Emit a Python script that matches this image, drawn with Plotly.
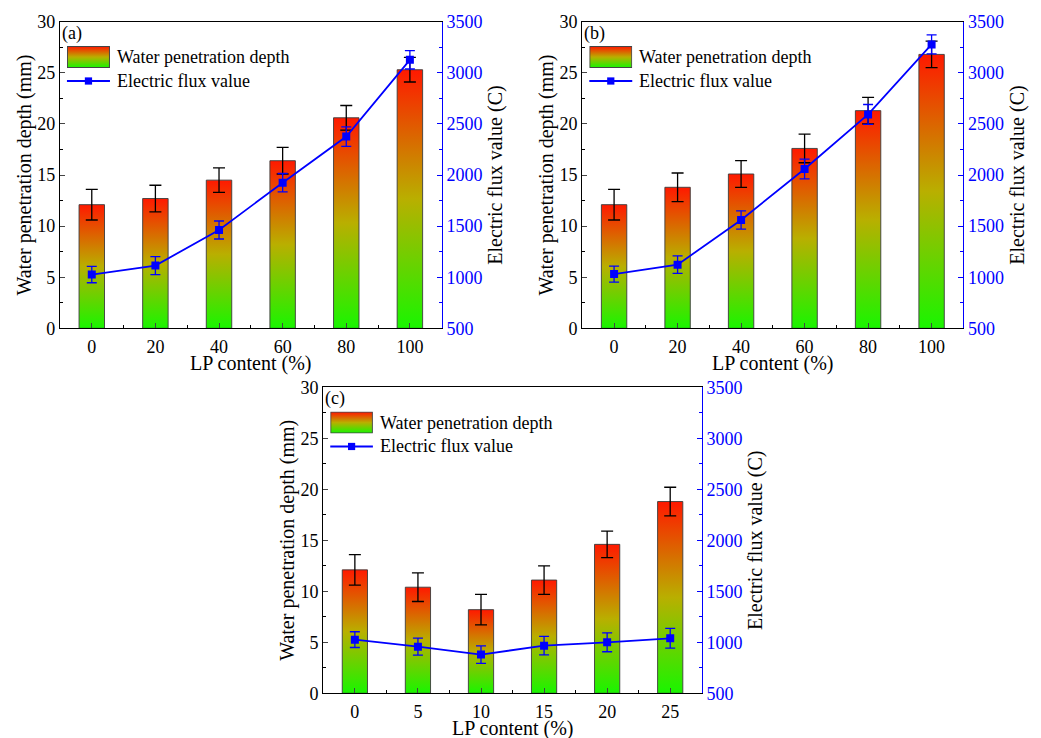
import base64
import plotly.graph_objects as go

# ---------------- data ----------------
x_ab = [0, 20, 40, 60, 80, 100]
x_c = [0, 5, 10, 15, 20, 25]

depth_a = [12.1, 12.7, 14.5, 16.4, 20.6, 25.3]
depth_a_err = [1.5, 1.3, 1.2, 1.3, 1.2, 1.2]
flux_a = [1026, 1114, 1462, 1925, 2376, 3127]
flux_a_err = [80, 88, 88, 90, 95, 90]

depth_b = [12.1, 13.8, 15.1, 17.6, 21.3, 26.8]
depth_b_err = [1.5, 1.4, 1.3, 1.4, 1.3, 1.3]
flux_b = [1031, 1123, 1560, 2059, 2593, 3278]
flux_b_err = [78, 85, 90, 97, 97, 93]

depth_c = [12.1, 10.4, 8.2, 11.1, 14.6, 18.8]
depth_c_err = [1.5, 1.4, 1.5, 1.4, 1.3, 1.4]
flux_c = [1026, 957, 879, 967, 1000, 1039]
flux_c_err = [77, 83, 85, 90, 93, 97]

panel_labels = ["(a)", "(b)", "(c)"]
bar_name = "Water penetration depth"
line_name = "Electric flux value"
x_title = "LP content (%)"
y_left_title = "Water penetration depth (mm)"
y_right_title = "Electric flux value (C)"

FONT = "Liberation Serif, Times New Roman, serif"
BLUE = "#0000FF"
C_LOW, C_MID, C_HIGH = "rgb(25,245,0)", "rgb(185,175,0)", "rgb(255,25,0)"
GRAD = [[0, C_LOW], [0.5, C_MID], [1, C_HIGH]]

# gradient swatch for the legend (svg image)
svg = (
    "<svg xmlns='http://www.w3.org/2000/svg' width='43' height='22' viewBox='0 0 43 22' "
    "preserveAspectRatio='none'>"
    "<defs><linearGradient id='g' x1='0' y1='1' x2='0' y2='0'>"
    f"<stop offset='0' stop-color='{C_LOW}'/><stop offset='0.5' stop-color='{C_MID}'/>"
    f"<stop offset='1' stop-color='{C_HIGH}'/></linearGradient></defs>"
    "<rect x='0.5' y='0.5' width='42' height='21' fill='url(#g)' stroke='#444' stroke-width='1'/>"
    "</svg>"
)
SWATCH = "data:image/svg+xml;base64," + base64.b64encode(svg.encode()).decode()

panels = [
    dict(x=x_ab, d=depth_a, de=depth_a_err, f=flux_a, fe=flux_a_err, w=8, step=20,
         xa="x", ya="y", ya2="y2", tshift=-22,
         xdom=[0.0576, 0.4243], ydom=[0.5551, 0.9706]),
    dict(x=x_ab, d=depth_b, de=depth_b_err, f=flux_b, fe=flux_b_err, w=8, step=20,
         xa="x2", ya="y3", ya2="y4", tshift=-22,
         xdom=[0.5594, 0.9254], ydom=[0.5551, 0.9706]),
    dict(x=x_c, d=depth_c, de=depth_c_err, f=flux_c, fe=flux_c_err, w=2, step=5,
         xa="x3", ya="y5", ya2="y6", tshift=-22,
         xdom=[0.3106, 0.6741], ydom=[0.0606, 0.4752]),
]

fig = go.Figure()
layout = dict(
    width=1041, height=738,
    margin=dict(l=0, r=0, t=0, b=0, autoexpand=False),
    paper_bgcolor="white", plot_bgcolor="white",
    font=dict(family=FONT, size=18, color="black"),
    showlegend=False,
    annotations=[], shapes=[], images=[],
)

def axname(ref):
    return ref[0] + "axis" + ref[1:]

for i, p in enumerate(panels):
    # gradient bars (polygons built from data)
    for k, (xv, dv) in enumerate(zip(p["x"], p["d"])):
        hw = p["w"] / 2
        fig.add_trace(go.Scatter(
            x=[xv - hw, xv - hw, xv + hw, xv + hw, xv - hw],
            y=[0, dv, dv, 0, 0],
            mode="lines", fill="toself",
            fillgradient=dict(type="vertical", colorscale=GRAD),
            line=dict(color="rgba(60,60,60,0.9)", width=1),
            name=bar_name, hoverinfo="skip",
            xaxis=p["xa"], yaxis=p["ya"],
        ))
    # bar error bars
    fig.add_trace(go.Scatter(
        x=p["x"], y=p["d"], mode="markers", name=bar_name,
        marker=dict(size=1, color="rgba(0,0,0,0)"),
        error_y=dict(type="data", array=p["de"], visible=True, color="black",
                     thickness=1.3, width=6),
        xaxis=p["xa"], yaxis=p["ya"], hoverinfo="skip",
    ))
    # electric flux line
    fig.add_trace(go.Scatter(
        x=p["x"], y=p["f"], mode="lines+markers", name=line_name,
        line=dict(color=BLUE, width=1.8),
        marker=dict(symbol="square", size=8, color=BLUE),
        error_y=dict(type="data", array=p["fe"], visible=True, color=BLUE,
                     thickness=1.3, width=5),
        xaxis=p["xa"], yaxis=p["ya2"],
    ))

    xmin = p["x"][0] - p["step"] / 2
    xmax = p["x"][-1] + p["step"] / 2
    layout[axname(p["xa"])] = dict(
        domain=p["xdom"], anchor=p["ya"], range=[xmin, xmax], automargin=False,
        tickvals=p["x"], ticks="inside", ticklen=5, tickwidth=1.2,
        ticklabelstandoff=2,
        minor=dict(dtick=p["step"], tick0=p["step"] / 2, ticks="inside", ticklen=3,
                   tickcolor="black"),
        showline=True, linecolor="black", linewidth=1.3, mirror=True,
        showgrid=False, zeroline=False,
        tickfont=dict(size=18),
    )
    layout[axname(p["ya"])] = dict(
        domain=p["ydom"], anchor=p["xa"], range=[0, 30], dtick=5, automargin=False,
        ticks="inside", ticklen=5, tickwidth=1.2,
        minor=dict(dtick=2.5, ticks="inside", ticklen=3, tickcolor="black"),
        showline=True, linecolor="black", linewidth=1.3,
        showgrid=False, zeroline=False,
        title=dict(text=y_left_title, standoff=0, font=dict(size=20)),
    )
    layout[axname(p["ya2"])] = dict(
        overlaying=p["ya"], anchor=p["xa"], side="right", range=[500, 3500], dtick=500,
        automargin=False,
        ticks="inside", ticklen=5, tickwidth=1.2, tickcolor=BLUE,
        minor=dict(dtick=250, ticks="inside", ticklen=3, tickcolor=BLUE),
        showline=True, linecolor=BLUE, linewidth=1.3,
        showgrid=False, zeroline=False,
        tickfont=dict(color=BLUE, size=18),
        title=dict(text=y_right_title, standoff=6, font=dict(color="black", size=20)),
    )

    xd = f"{p['xa']} domain"
    yd = f"{p['ya']} domain"
    # x axis title
    layout["annotations"].append(dict(
        text=x_title, xref=xd, yref=yd, x=0.5, y=0, xanchor="center", yanchor="top",
        yshift=p["tshift"], showarrow=False, font=dict(size=20),
    ))
    # panel label
    layout["annotations"].append(dict(
        text=panel_labels[i], xref=xd, yref=yd,
        x=0.0, y=1.0, xanchor="left", yanchor="top", showarrow=False,
        font=dict(size=18), xshift=0, yshift=1,
    ))
    # ---- legend (drawn inside plot area) ----
    sx0, sx1 = 0.0183, 0.131
    layout["images"].append(dict(
        source=SWATCH, xref=xd, yref=yd, x=sx0, y=0.9207,
        sizex=sx1 - sx0, sizey=0.9207 - 0.849, xanchor="left", yanchor="top",
        sizing="stretch", layer="above",
    ))
    ly = 0.8066
    layout["shapes"].append(dict(
        type="line", xref=xd, yref=yd, x0=sx0, x1=sx1, y0=ly, y1=ly,
        line=dict(color=BLUE, width=1.8),
    ))
    cx = (sx0 + sx1) / 2
    layout["shapes"].append(dict(
        type="rect", xref=xd, yref=yd, x0=cx - 0.0095, x1=cx + 0.0095,
        y0=ly - 0.0118, y1=ly + 0.0118, fillcolor=BLUE, line=dict(width=0),
    ))
    layout["annotations"].append(dict(
        text=bar_name, xref=xd, yref=yd, x=0.144, y=0.8849, xanchor="left",
        yanchor="middle", showarrow=False, font=dict(size=18),
    ))
    layout["annotations"].append(dict(
        text=line_name, xref=xd, yref=yd, x=0.144, y=ly, xanchor="left",
        yanchor="middle", showarrow=False, font=dict(size=18),
    ))

fig.update_layout(**layout)
fig.write_html("out.html")
